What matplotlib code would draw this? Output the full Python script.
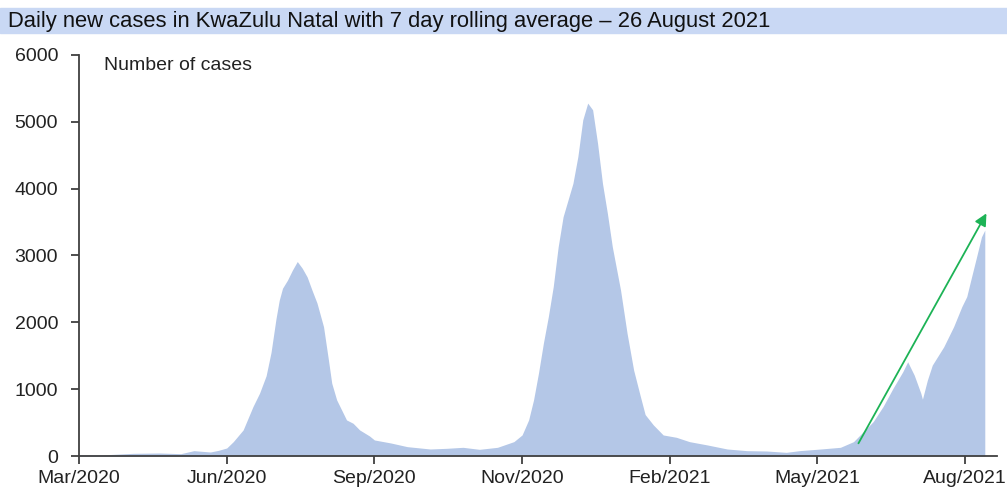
import numpy as np
import matplotlib.pyplot as plt

plt.rcParams['font.family'] = ['Liberation Sans', 'DejaVu Sans']

# days since start of the axis (first tick = Mar/2020) and 7 day rolling average
days = [0, 13, 33, 49, 62, 70, 80, 85, 90, 94, 100, 106, 110, 114, 117, 120,
        122, 124, 127, 130, 133, 136, 139, 142, 145, 149, 152, 154, 157, 161,
        163, 167, 171, 177, 180, 190, 200, 214, 224, 234, 244, 255, 265, 270,
        274, 277, 280, 283, 286, 289, 292, 295, 298, 301, 304, 307, 310, 313,
        316, 319, 322, 325, 330, 334, 338, 342, 345, 350, 356, 364, 372, 383,
        395, 407, 419, 431, 439, 452, 464, 472, 478, 484, 490, 496, 502, 505,
        509, 513, 514, 517, 520, 527, 533, 538, 541, 544, 547, 550, 552]
cases = [20, 15, 40, 45, 35, 80, 60, 85, 120, 215, 390, 740, 940, 1200, 1550,
         2050, 2330, 2510, 2630, 2780, 2910, 2810, 2680, 2480, 2290, 1935,
         1435, 1090, 840, 640, 540, 490, 390, 300, 240, 195, 140, 105, 115,
         130, 100, 130, 215, 315, 540, 840, 1240, 1690, 2085, 2535, 3130,
         3580, 3830, 4080, 4480, 5030, 5280, 5180, 4680, 4080, 3630, 3130,
         2485, 1835, 1285, 900, 620, 465, 315, 280, 215, 165, 105, 80, 75, 55,
         80, 105, 130, 215, 365, 515, 740, 1010, 1260, 1410, 1210, 940, 850,
         1135, 1360, 1635, 1935, 2235, 2385, 2685, 2980, 3280, 3380]

tick_days = [0, 90, 180, 270, 360, 450, 540]
tick_labels = ['Mar/2020', 'Jun/2020', 'Sep/2020', 'Nov/2020', 'Feb/2021',
               'May/2021', 'Aug/2021']

# trend arrow (start, end) in data coords
arrow_days = [475, 553]
arrow_cases = [190, 3630]

fig = plt.figure(figsize=(10.07, 4.94), dpi=100)
ax = fig.add_axes([0.0785, 0.0769, 0.9115, 0.8118])

ax.fill_between(days, cases, 0, color='#b4c7e7', linewidth=0)

ax.annotate('', xy=(arrow_days[1], arrow_cases[1]),
            xytext=(arrow_days[0], arrow_cases[0]),
            arrowprops=dict(arrowstyle='-|>', color='#1db356', lw=1.3,
                            mutation_scale=18, shrinkA=0, shrinkB=0))

ax.set_xlim(0, 559.4)
ax.set_ylim(0, 6000)
ax.set_yticks(np.arange(0, 6001, 1000))
ax.set_xticks(tick_days)
ax.set_xticklabels(tick_labels)

for s in ['top', 'right']:
    ax.spines[s].set_visible(False)
for s in ['left', 'bottom']:
    ax.spines[s].set_color('#404040')
    ax.spines[s].set_linewidth(1.3)

ax.tick_params(axis='y', length=6, width=1.3, color='#404040', pad=9,
               labelsize=14, labelcolor='#222222')
ax.tick_params(axis='x', length=6, width=1.3, color='#404040', pad=4,
               labelsize=14, labelcolor='#222222')

ax.text(0.027, 0.995, 'Number of cases', transform=ax.transAxes,
        fontsize=14, va='top', ha='left', color='#222222')

# title band
fig.patches.append(plt.Rectangle((0, 1 - 33 / 494), 1, 25 / 494,
                                 transform=fig.transFigure,
                                 color='#c9d8f4', zorder=0))
fig.text(8 / 1007, 1 - 21 / 494,
         'Daily new cases in KwaZulu Natal with 7 day rolling average \u2013 26 August 2021',
         fontsize=15.8, va='center', ha='left', color='#111111')

fig.savefig('out.png', dpi=100)
